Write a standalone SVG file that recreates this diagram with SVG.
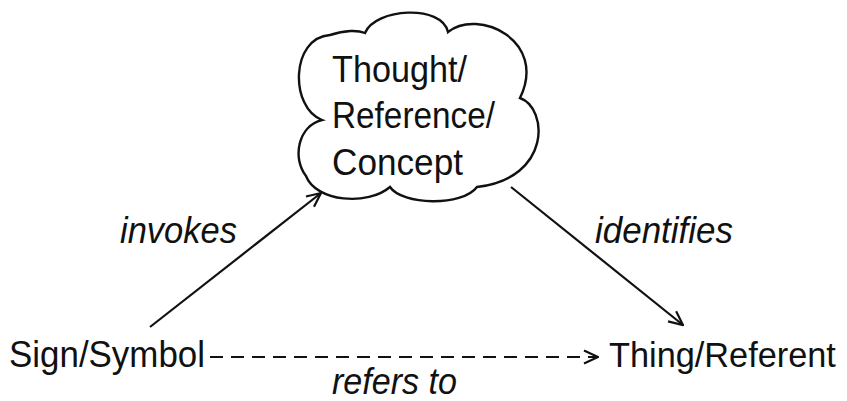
<svg xmlns="http://www.w3.org/2000/svg" width="847" height="401" viewBox="0 0 847 401">
<style>
text{font-family:"Liberation Sans",Arial,sans-serif;font-size:37px;fill:#111}
.lbl{font-style:italic}
.edge{stroke:#111;stroke-width:2.2;fill:none}
.cloud{stroke:#111;stroke-width:2.4;fill:#fff}
</style>
<defs>
<marker id="arr" viewBox="0 0 16 16" refX="15" refY="8" markerWidth="16" markerHeight="16" markerUnits="userSpaceOnUse" orient="auto">
<path d="M1,1.5 L15,8 L1,14.5" fill="none" stroke="#111" stroke-width="2.2"/>
</marker>
</defs>
<rect width="847" height="401" fill="#fff"/>
<g id="connectors">
<line class="edge" x1="150" y1="327" x2="321" y2="193" marker-end="url(#arr)"/>
<line class="edge" x1="511" y1="187" x2="683" y2="325" marker-end="url(#arr)"/>
<line class="edge" x1="210" y1="357" x2="598" y2="357" stroke-dasharray="13,8" marker-end="url(#arr)"/>
<text class="lbl" x="120" y="243" textLength="117" lengthAdjust="spacingAndGlyphs">invokes</text>
<text class="lbl" x="595" y="243" textLength="138" lengthAdjust="spacingAndGlyphs">identifies</text>
<text class="lbl" x="332" y="394" textLength="125" lengthAdjust="spacingAndGlyphs">refers to</text>
</g>
<g id="thought">
<path class="cloud" d="M365,33 C375,8 442,4 448,32 C478,8 548,40 520,98 C548,108 552,178 477,187 C462,207 402,205 390,187 C368,206 316,202 306,176 C292,158 298,126 322,120 C290,108 290,38 330,35 C345,30 358,30 365,33 Z"/>
<text x="332" y="82" textLength="135" lengthAdjust="spacingAndGlyphs">Thought/</text>
<text x="332" y="128" textLength="163" lengthAdjust="spacingAndGlyphs">Reference/</text>
<text x="332" y="175" textLength="131" lengthAdjust="spacingAndGlyphs">Concept</text>
</g>
<g id="sign">
<text x="9" y="367" textLength="196" lengthAdjust="spacingAndGlyphs">Sign/Symbol</text>
</g>
<g id="thing">
<text x="609" y="367" style="font-size:34.3px">Thing/Referent</text>
</g>
</svg>
